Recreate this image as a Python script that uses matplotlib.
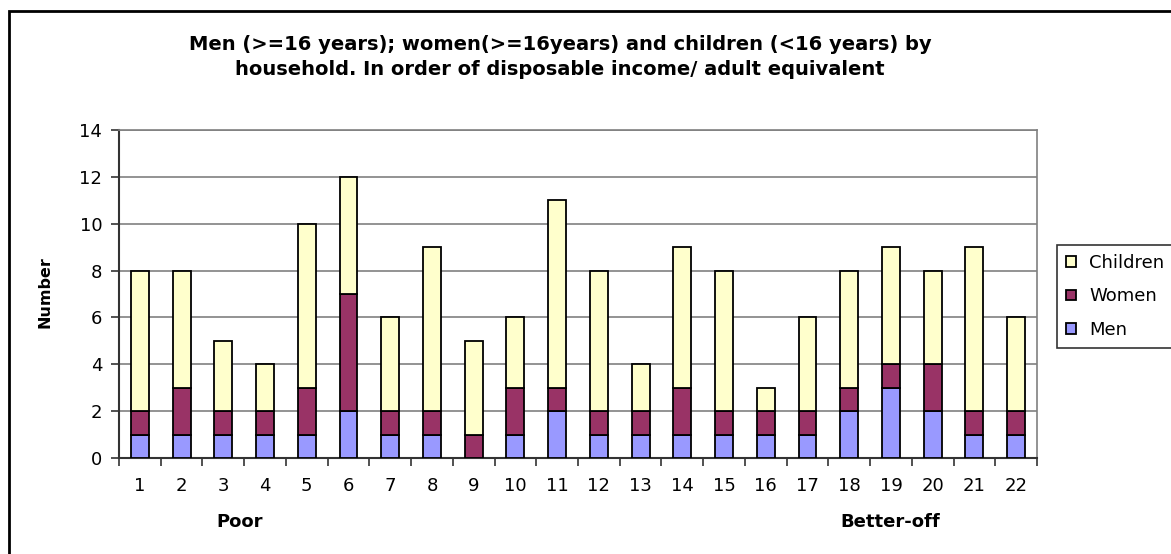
import matplotlib.pyplot as plt
from matplotlib.patches import Rectangle
import numpy as np

plt.rcParams['font.family'] = ['DejaVu Sans']

# data
households = [str(i) for i in range(1, 23)]
men = [1, 1, 1, 1, 1, 2, 1, 1, 0, 1, 2, 1, 1, 1, 1, 1, 1, 2, 3, 2, 1, 1]
women = [1, 2, 1, 1, 2, 5, 1, 1, 1, 2, 1, 1, 1, 2, 1, 1, 1, 1, 1, 2, 1, 1]
children = [6, 5, 3, 2, 7, 5, 4, 7, 4, 3, 8, 6, 2, 6, 6, 1, 4, 5, 5, 4, 7, 4]

col_men = '#9999FF'
col_women = '#993366'
col_children = '#FFFFCC'

fig = plt.figure(figsize=(11.71, 5.54), dpi=100)
ax = fig.add_axes([119/1171, 1 - 458/554, 918/1171, 328/554])

x = np.arange(len(households))
w = 0.43
men = np.array(men)
women = np.array(women)
children = np.array(children)

b1 = ax.bar(x, men, w, color=col_men, edgecolor='black', linewidth=1.3, label='Men', zorder=3)
b2 = ax.bar(x, women, w, bottom=men, color=col_women, edgecolor='black', linewidth=1.3, label='Women', zorder=3)
b3 = ax.bar(x, children, w, bottom=men + women, color=col_children, edgecolor='black', linewidth=1.3,
            label='Children', zorder=3)

ax.set_xlim(-0.5, len(households) - 0.5)
ax.set_ylim(0, 14)
ax.set_yticks(range(0, 15, 2))
ax.yaxis.grid(True, color='#808080', linewidth=1.2, zorder=0)
ax.set_axisbelow(True)

# category labels at centres, tick marks on boundaries
ax.set_xticks(x)
ax.set_xticklabels(households, fontsize=13)
ax.tick_params(axis='x', length=0, pad=14)
ax.set_xticks(np.arange(-0.5, len(households)), minor=True)
ax.tick_params(axis='x', which='minor', length=6, width=1.2, color='#333333', direction='out')
ax.tick_params(axis='y', labelsize=13, length=6, width=1.2, color='#333333', direction='out', pad=6)

for s in ['left', 'bottom']:
    ax.spines[s].set_color('#333333')
    ax.spines[s].set_linewidth(1.5)
for s in ['right', 'top']:
    ax.spines[s].set_color('#808080')
    ax.spines[s].set_linewidth(1.2)

fig.text(45/1171, 1 - 292/554, 'Number', rotation=90, ha='center', va='center',
         fontsize=11.5, fontweight='bold')

fig.text(560/1171, 1 - 57/554,
         'Men (>=16 years); women(>=16years) and children (<16 years) by\n'
         'household. In order of disposable income/ adult equivalent',
         ha='center', va='center', fontsize=14, fontweight='bold', linespacing=1.4)

fig.text(240/1171, 1 - 522/554, 'Poor', ha='center', va='center', fontsize=13, fontweight='bold')
fig.text(890/1171, 1 - 522/554, 'Better-off', ha='center', va='center', fontsize=13, fontweight='bold')

leg = fig.legend([b3, b2, b1], ['Children', 'Women', 'Men'], loc='upper left',
                 bbox_to_anchor=(1057/1171, 1 - 245/554), frameon=True, fancybox=False,
                 fontsize=13, handlelength=0.55, handleheight=0.55, handletextpad=0.75,
                 borderpad=0.5, labelspacing=0.85, borderaxespad=0)
leg.get_frame().set_edgecolor('black')
leg.get_frame().set_linewidth(1.2)

# outer chart border
fig.patches.append(Rectangle((9/1171, -0.1), 1.2, 1 - 11/554 + 0.1, transform=fig.transFigure,
                             fill=False, edgecolor='black', linewidth=2))

fig.savefig('out.png', dpi=100)
